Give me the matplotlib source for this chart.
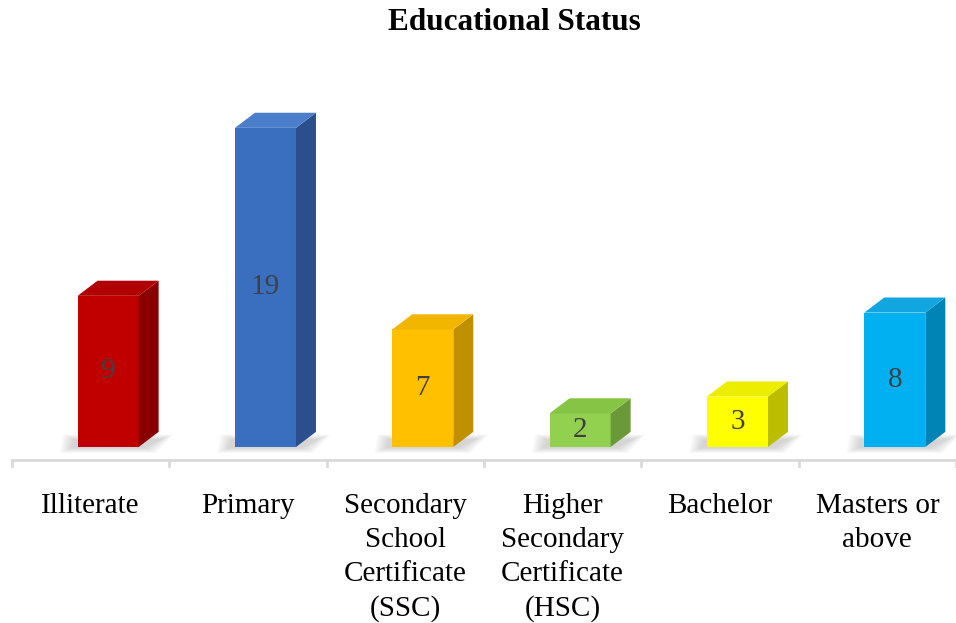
import matplotlib.pyplot as plt
from matplotlib.patches import Polygon

plt.rcParams['font.family'] = ['Liberation Serif', 'DejaVu Serif']

# data
categories = ['Illiterate', 'Primary', 'Secondary\nSchool\nCertificate\n(SSC)',
              'Higher\nSecondary\nCertificate\n(HSC)', 'Bachelor', 'Masters or\nabove']
counts = [9, 19, 7, 2, 3, 8]
front_colors = ['#C00000', '#3A6FC0', '#FFC000', '#92D050', '#FFFF00', '#00B0F0']
side_colors = ['#8A0000', '#2A4F8C', '#C09000', '#6A9A38', '#BDBD00', '#0083B5']
top_colors = ['#B00000', '#4A7ECB', '#F2B600', '#86C445', '#EDED00', '#12A6E0']

fig = plt.figure(figsize=(9.56, 6.23), dpi=100)
ax = fig.add_axes([12 / 956, 1 - 470 / 623, 944 / 956, 410 / 623])
ax.set_xlim(-0.5, 5.5)
ax.set_ylim(-1.37, 23.04)
ax.axis('off')

# 3D box geometry (in data units)
off = -0.083   # front face left edge relative to category center
w = 0.388      # front face width
dx = 0.127     # depth shift to the right
dy = 0.90      # depth shift upward

for i, v in enumerate(counts):
    x0 = i + off
    x1 = x0 + w
    # soft shadow at the base
    for k in range(7):
        e = 0.012 * k
        ey = 0.05 * k
        shadow = Polygon([(x0 - 0.04 - e, -0.05 - ey), (x1 + dx * 0.3 + e, -0.05 - ey),
                          (x1 + dx + 0.02 + e, dy * 0.5 + ey), (x0 - 0.02 - e, dy * 0.5 + ey)],
                         closed=True, facecolor='#606060', edgecolor='none', alpha=0.04, zorder=1)
        ax.add_patch(shadow)
    front = Polygon([(x0, 0), (x1, 0), (x1, v), (x0, v)], closed=True,
                    facecolor=front_colors[i], edgecolor='none', zorder=3)
    side = Polygon([(x1, 0), (x1 + dx, dy), (x1 + dx, v + dy), (x1, v)], closed=True,
                   facecolor=side_colors[i], edgecolor='none', zorder=3)
    top = Polygon([(x0, v), (x1, v), (x1 + dx, v + dy), (x0 + dx, v + dy)], closed=True,
                  facecolor=top_colors[i], edgecolor='none', zorder=3)
    for p in (front, side, top):
        ax.add_patch(p)
    ax.text(x0 + w / 2, v / 2, str(v), ha='center', va='center',
            fontsize=21, color='#404040', zorder=4)

# category axis with tick marks between groups
axis_y = -0.77
ax.plot([-0.5, 5.5], [axis_y, axis_y], color='#D9D9D9', lw=2, zorder=2, clip_on=False)
for b in range(7):
    ax.plot([b - 0.5, b - 0.5], [axis_y, axis_y - 0.38], color='#D9D9D9', lw=2,
            zorder=2, clip_on=False)

for i, lab in enumerate(categories):
    ax.text(i, -2.72, lab, ha='center', va='top', fontsize=21, color='black',
            linespacing=1.4, clip_on=False)

fig.text(514 / 956, 1 - 23 / 623, 'Educational Status', ha='center', va='center',
         fontsize=22.5, fontweight='bold')

fig.savefig('out.png', dpi=100)
